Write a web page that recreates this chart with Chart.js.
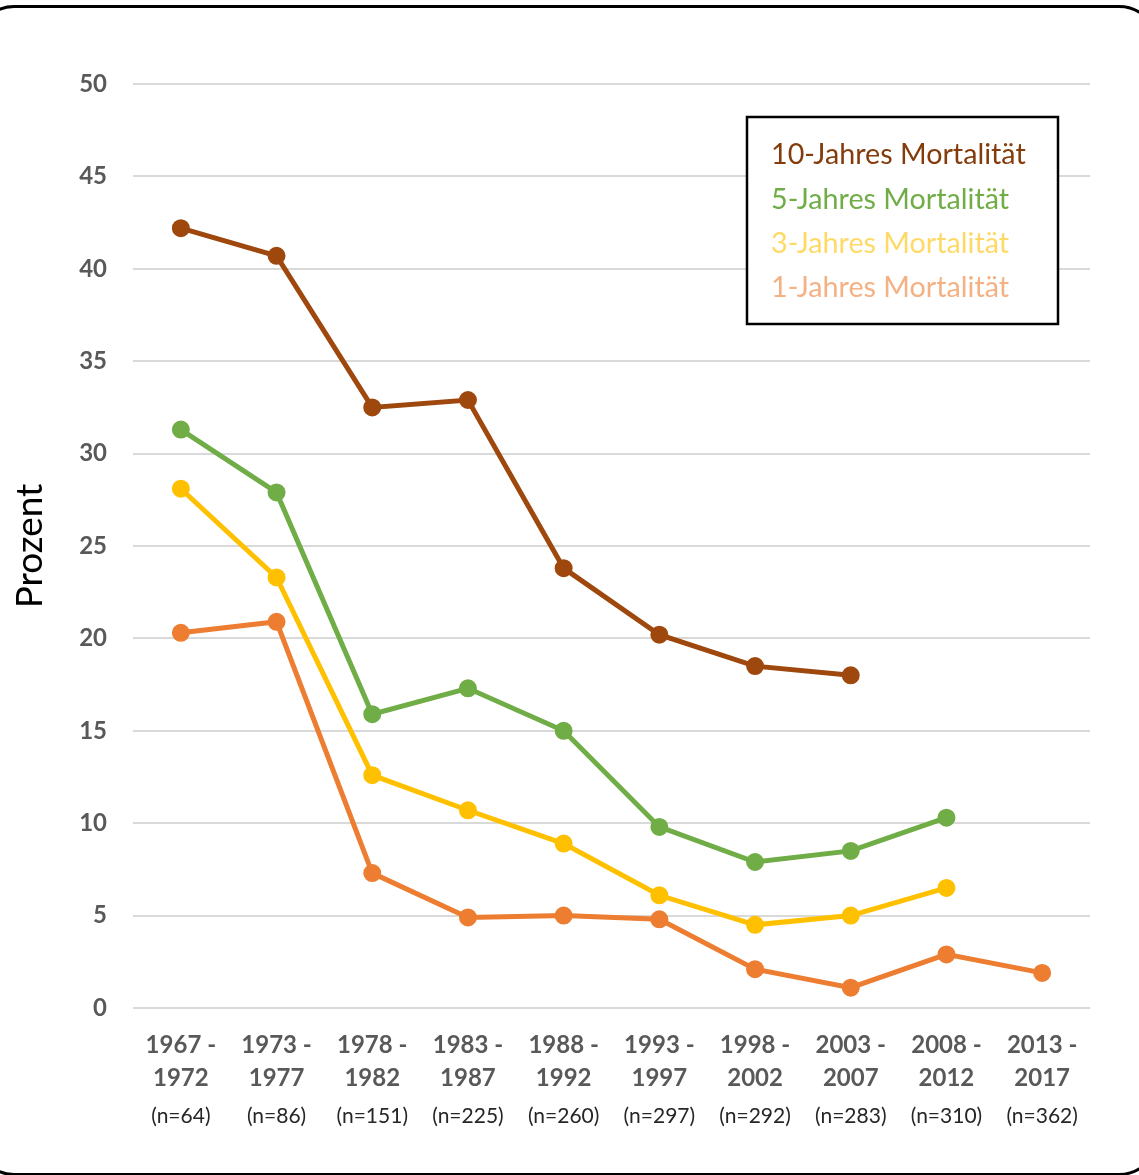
<!DOCTYPE html>
<html>
<head>
<meta charset="utf-8">
<script src="https://cdn.jsdelivr.net/npm/chart.js@4"></script>
<style>
  html, body { margin: 0; padding: 0; background: #fff; overflow: hidden; }
  #wrap { position: relative; width: 1139px; height: 1175px; }
  #frame {
    position: absolute; left: -26px; top: 5px; width: 1185px; height: 1171px;
    border: 3px solid #000; border-radius: 40px; box-sizing: border-box;
  }
  canvas { position: absolute; left: 0; top: 0; }
</style>
</head>
<body>
<div id="wrap">
  <div id="frame"></div>
  <canvas id="mortalityChart" width="1139" height="1175"></canvas>
</div>
<script>
const periods = [
    ["1967 -", "1972"], ["1973 -", "1977"], ["1978 -", "1982"], ["1983 -", "1987"],
    ["1988 -", "1992"], ["1993 -", "1997"], ["1998 -", "2002"], ["2003 -", "2007"],
    ["2008 -", "2012"], ["2013 -", "2017"]
];
const caseCounts = ["(n=64)", "(n=86)", "(n=151)", "(n=225)", "(n=260)",
                    "(n=297)", "(n=292)", "(n=283)", "(n=310)", "(n=362)"];

const mortality10 = [42.2, 40.7, 32.5, 32.9, 23.8, 20.2, 18.5, 18.0, null, null];
const mortality5  = [31.3, 27.9, 15.9, 17.3, 15.0, 9.8, 7.9, 8.5, 10.3, null];
const mortality3  = [28.1, 23.3, 12.6, 10.7, 8.9, 6.1, 4.5, 5.0, 6.5, null];
const mortality1  = [20.3, 20.9, 7.3, 4.9, 5.0, 4.8, 2.1, 1.1, 2.9, 1.9];

const legendLabels = ["10-Jahres Mortalität", "5-Jahres Mortalität", "3-Jahres Mortalität", "1-Jahres Mortalität"];
const legendColors = ["#843C0C", "#70AD47", "#FFD966", "#F4B183"];

const FONT = "Lato, 'Open Sans', sans-serif";

function series(label, data, color) {
    return {
        label: label,
        data: data,
        borderColor: color,
        backgroundColor: color,
        pointBackgroundColor: color,
        pointBorderColor: color,
        borderWidth: 5,
        pointRadius: 6.5,
        pointHoverRadius: 6.5,
        tension: 0,
        spanGaps: false
    };
}

// Case counts under the period labels and the boxed legend
const extras = {
    id: "extras",
    afterDraw(chart) {
        const ctx = chart.ctx;
        const xScale = chart.scales.x;
        ctx.save();
        ctx.font = "21px " + FONT;
        ctx.fillStyle = "#262626";
        ctx.textAlign = "center";
        ctx.textBaseline = "middle";
        caseCounts.forEach((txt, i) => {
            ctx.fillText(txt, xScale.getPixelForValue(i), 1116);
        });

        ctx.fillStyle = "#fff";
        ctx.fillRect(747, 117, 311, 207);
        ctx.strokeStyle = "#000";
        ctx.lineWidth = 2.5;
        ctx.strokeRect(747, 117, 311, 207);
        ctx.font = "28.7px " + FONT;
        ctx.textAlign = "left";
        legendLabels.forEach((txt, i) => {
            ctx.fillStyle = legendColors[i];
            ctx.fillText(txt, 771, 155 + i * 44.3);
        });
        ctx.restore();
    }
};

const ctx = document.getElementById("mortalityChart").getContext("2d");

new Chart(ctx, {
    type: "line",
    data: {
        labels: periods,
        datasets: [
            series("1-Jahres Mortalität", mortality1, "#ED7D31"),
            series("3-Jahres Mortalität", mortality3, "#FFC000"),
            series("5-Jahres Mortalität", mortality5, "#70AD47"),
            series("10-Jahres Mortalität", mortality10, "#9E480E")
        ]
    },
    options: {
        responsive: false,
        animation: false,
        layout: { padding: { top: 84, right: 49, bottom: 0, left: 0 } },
        plugins: {
            legend: { display: false },
            tooltip: { enabled: false }
        },
        scales: {
            x: {
                offset: true,
                grid: { display: false, drawTicks: false },
                border: { display: false },
                ticks: {
                    color: "#595959",
                    font: { family: FONT, size: 24, weight: "bold", lineHeight: 1.38 },
                    padding: 21,
                    maxRotation: 0,
                    autoSkip: false
                },
                afterFit(scale) { scale.height = 167; }
            },
            y: {
                min: 0,
                max: 50,
                ticks: {
                    stepSize: 5,
                    color: "#595959",
                    font: { family: FONT, size: 24, weight: "bold" },
                    padding: 26
                },
                grid: { color: "#d9d9d9", lineWidth: 2, drawTicks: false },
                border: { display: false },
                title: {
                    display: true,
                    text: "Prozent",
                    color: "#000",
                    font: { family: FONT, size: 37 },
                    padding: { top: 8, bottom: 0 }
                },
                afterFit(scale) { scale.width = 133; }
            }
        }
    },
    plugins: [extras]
});
</script>
</body>
</html>
